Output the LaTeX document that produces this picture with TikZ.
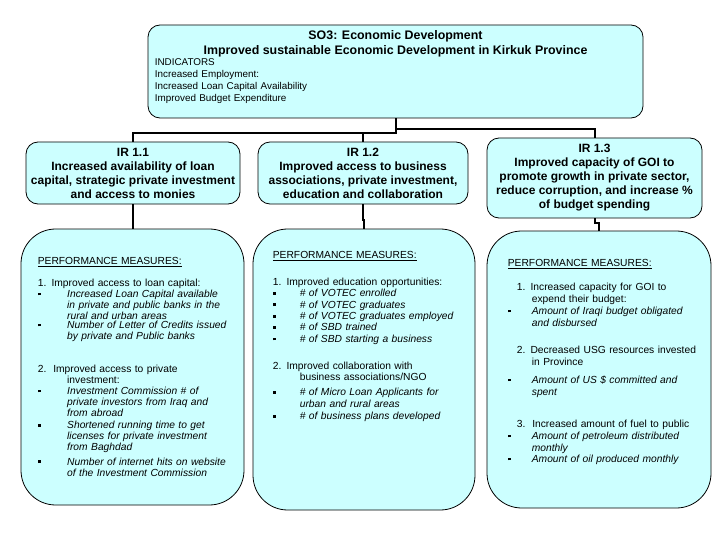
\documentclass[tikz,border=0pt]{standalone}
\usepackage{fontspec}
\setmainfont{Liberation Sans}
\usetikzlibrary{positioning}
\definecolor{boxfill}{HTML}{CCFFFF}
\newlength{\pmind}
\newcommand{\pmsq}{\raisebox{1.5pt}{\rule{2pt}{2pt}}}
\newcommand{\pmhead}{\underline{PERFORMANCE MEASURES:}}
\newcommand{\pmnum}[2][0pt]{\par\noindent\hspace*{#1}#2}
\newcommand{\pmcont}[1]{\par\noindent\hspace*{\pmind}#1}
\newcommand{\pmbul}[1]{\par\noindent\makebox[\pmind][l]{\pmsq}\parbox[t]{\dimexpr\linewidth-\pmind\relax}{\raggedright\itshape#1}}

\begin{document}
\begin{tikzpicture}[x=0.75pt, y=0.75pt,
		goalbox/.style={draw, fill=boxfill, line width=0.6pt, rounded corners=9pt, inner sep=0pt},
		irbox/.style={goalbox, align=center, font=\fontsize{9}{10.5}\selectfont\bfseries},
		pmbox/.style={goalbox, rounded corners=26pt},
		pmtext/.style={anchor=north west, align=left, inner sep=0pt, text width=#1},
		link/.style={line width=1.5pt}]
		\useasboundingbox (0,0) rectangle (720,540);
		\node[goalbox, minimum width=371.25pt, minimum height=69.75pt] (so) at (395.5,468.5) {};
		\node[below=4.3pt of so.north, align=center, inner sep=0pt, font=\fontsize{9.3}{11.25}\selectfont\bfseries] (sotitle) {SO3: Economic Development\\Improved sustainable Economic Development in Kirkuk Province};
		\node[pmtext=200pt, below right=25.1pt and 5.25pt of so.north west, font=\fontsize{7.4}{9}\selectfont] (soind) {INDICATORS\\Increased Employment:\\Increased Loan Capital Availability\\Improved Budget Expenditure};
		\node[irbox, minimum width=160.5pt, minimum height=46.5pt] (ir1) at (133,367) {IR 1.1\\Increased availability of loan\\capital, strategic private investment\\and access to monies};
		\node[irbox, minimum width=157.5pt, minimum height=46.5pt] (ir2) at (363,367) {IR 1.2\\Improved access to business\\associations, private investment,\\education and collaboration};
		\node[irbox, minimum width=161.25pt, minimum height=60pt] (ir3) at (594.5,362) {IR 1.3\\Improved capacity of GOI to\\promote growth in private sector,\\reduce corruption, and increase \%\\of budget spending};
		\node[pmbox, minimum width=167.25pt, minimum height=207pt] (pm1) at (132.5,173) {};
		\node[pmbox, minimum width=166.5pt, minimum height=210.75pt] (pm2) at (364,170.5) {};
		\node[pmbox, minimum width=168pt, minimum height=207.75pt] (pm3) at (599,170.5) {};
		\node[pmtext=150pt, below right=21.2pt and 12.75pt of pm1.north west, font=\fontsize{7.7}{8.3}\selectfont] (pm1txt) {\setlength{\pmind}{22pt}%
			\pmhead\par\vspace{8.2pt}
			\pmnum{1. Improved access to loan capital:}
			\pmbul{Increased Loan Capital available\\in private and public banks in the\\rural and urban areas}
			\pmbul{Number of Letter of Credits issued\\by private and Public banks}
			\par\vspace{16.4pt}
			\pmnum{2.\ \ Improved access to private}
			\pmcont{investment:}
			\pmbul{Investment Commission \# of\\private investors from Iraq and\\from abroad}
			\par\vspace{2.5pt}
			\pmbul{Shortened running time to get\\licenses for private investment\\from Baghdad}
			\par\vspace{2.5pt}
			\pmbul{Number of internet hits on website\\of the Investment Commission}};
		\node[pmtext=148pt, below right=16.7pt and 15pt of pm2.north west, font=\fontsize{7.7}{8.55}\selectfont] (pm2txt) {\setlength{\pmind}{20.25pt}%
			\pmhead\par\vspace{11.7pt}
			\pmnum{1. Improved education opportunities:}
			\pmbul{\# of VOTEC enrolled}
			\pmbul{\# of VOTEC graduates}
			\pmbul{\# of VOTEC graduates employed}
			\pmbul{\# of SBD trained}
			\pmbul{\# of SBD starting a business}
			\par\vspace{11.7pt}
			\pmnum{2. Improved collaboration with}
			\pmcont{business associations/NGO}
			\par\vspace{2.7pt}
			\pmbul{\# of Micro Loan Applicants for\\urban and rural areas}
			\par\vspace{2.7pt}
			\pmbul{\# of business plans developed}};
		\node[pmtext=150pt, below right=21.2pt and 15.75pt of pm3.north west, font=\fontsize{7.7}{9}\selectfont] (pm3txt) {\setlength{\pmind}{18pt}%
			\pmhead\par\vspace{9pt}
			\pmnum[6.75pt]{1. Increased capacity for GOI to}
			\pmcont{expend their budget:}
			\pmbul{Amount of Iraqi budget obligated\\and disbursed}
			\par\vspace{13.5pt}
			\pmnum[6.75pt]{2. Decreased USG resources invested}
			\pmcont{in Province}
			\par\vspace{4.5pt}
			\pmbul{Amount of US \$ committed and\\spent}
			\par\vspace{16pt}
			\pmnum[6.75pt]{3.\ \ Increased amount of fuel to public}
			\pmbul{Amount of petroleum distributed\\monthly}
			\pmbul{Amount of oil produced monthly}};
		\draw[link] (so.south) -- ++(0,-15) coordinate (split) -| (ir1.north);
		\draw[link] (split) -| (ir2.north);
		\draw[link] (so.south) -- ++(0,-11) -| (ir3.north);
		\draw[link] (ir1.south) -- ++(0,-16) -| (pm1.north);
		\draw[link] (ir2.south) -- ++(0,-16) -| (pm2.north);
		\draw[link] (ir3.south) -- ++(0,-5) -| (pm3.north);
	\end{tikzpicture}
\end{document}
